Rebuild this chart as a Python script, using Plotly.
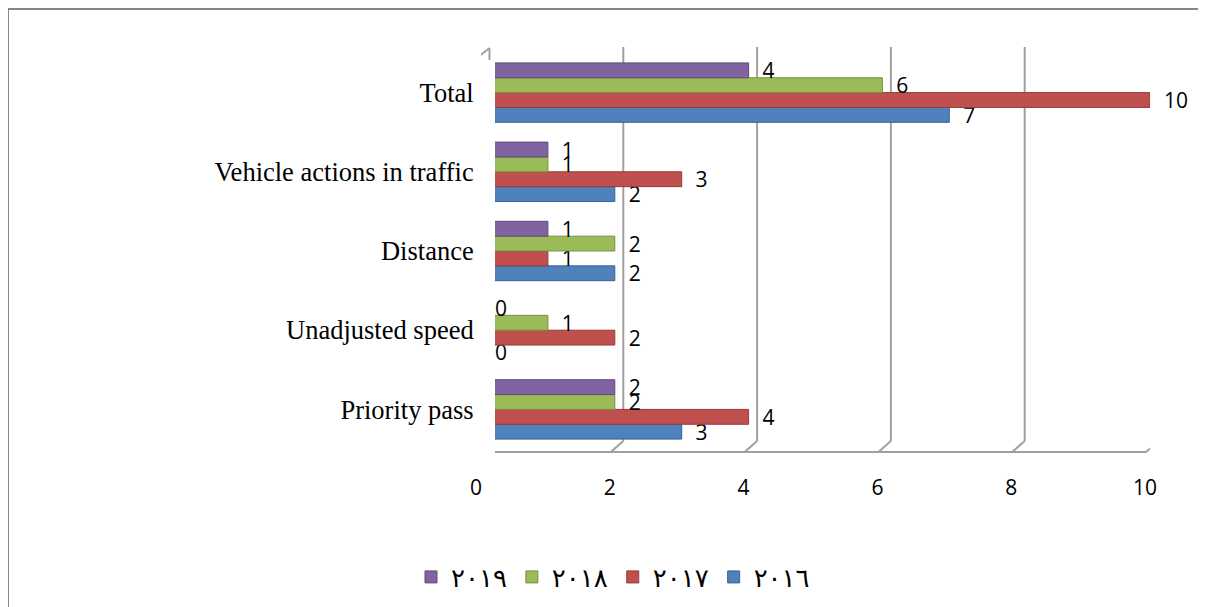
import plotly.graph_objects as go

categories = ["Priority pass", "Unadjusted speed", "Distance",
              "Vehicle actions in traffic", "Total"]
series_names = ["٢٠١٦", "٢٠١٧", "٢٠١٨", "٢٠١٩"]
v2016 = [3, 0, 2, 2, 7]
v2017 = [4, 2, 1, 3, 10]
v2018 = [2, 1, 2, 1, 6]
v2019 = [2, 0, 1, 1, 4]
colors = ["#4F81BD", "#C0504D", "#9BBB59", "#8064A2"]
edge_colors = ["#3A6292", "#943B39", "#76923F", "#5F4A7A"]
x_ticks = [0, 2, 4, 6, 8, 10]

# page body has an 8px margin; compensate so the plot lands where intended
OFF = 8
W, H = 1206, 607
PL, PR, PT, PB = 481, 1150, 53, 449  # plot area in screen pixels
ML = PL - OFF
MR = W + OFF - PR
MT = PT - OFF
MB = H + OFF - PB
PW = PR - PL
PH = PB - PT

fig = go.Figure()
for name, vals, c, ec in zip(series_names, [v2016, v2017, v2018, v2019], colors, edge_colors):
    fig.add_trace(go.Bar(
        y=categories, x=vals, name=name, orientation="h",
        marker=dict(color=c, line=dict(color=ec, width=1)),
        texttemplate="  %{x}", textposition="outside",
        textfont=dict(family="Open Sans", size=21, color="black"),
        constraintext="none", cliponaxis=False,
    ))

def px_x(px):
    return (px - PL) / PW

def px_y(py):
    return (PB - py) / PH

grid_col = "#A0A0A0"
unit = PW / 10.0
front = -4 / unit
back = 8.5 / unit
wall = 14 / unit
shapes = []
y_front = px_y(452)
y_back = px_y(441)
y_top = px_y(47)
for t in x_ticks[1:]:
    shapes.append(dict(type="line", xref="x", yref="paper", x0=t + back, x1=t + back,
                       y0=y_back, y1=y_top, line=dict(color=grid_col, width=2), layer="below"))
    shapes.append(dict(type="line", xref="x", yref="paper", x0=t + front, x1=t + back,
                       y0=y_front, y1=y_back, line=dict(color=grid_col, width=2), layer="below"))
# floor front edge
shapes.append(dict(type="line", xref="x", yref="paper", x0=x_ticks[0] + wall, x1=x_ticks[-1] + front,
                   y0=y_front, y1=y_front, line=dict(color=grid_col, width=2), layer="below"))
# left wall clips the bar bases (3-D look)
shapes.append(dict(type="rect", xref="x", yref="paper", x0=x_ticks[0] - 2 / unit, x1=x_ticks[0] + wall,
                   y0=px_y(451), y1=px_y(61), fillcolor="white", line=dict(width=0), layer="above"))
# top-left wall corner
shapes.append(dict(type="line", xref="x", yref="paper", x0=x_ticks[0] + front, x1=x_ticks[0] + back,
                   y0=px_y(58), y1=px_y(48), line=dict(color=grid_col, width=2), layer="below"))
shapes.append(dict(type="line", xref="x", yref="paper", x0=x_ticks[0] + back, x1=x_ticks[0] + back,
                   y0=px_y(48), y1=px_y(60), line=dict(color=grid_col, width=2), layer="below"))
# outer frame
shapes.append(dict(type="rect", xref="paper", yref="paper", x0=px_x(8), x1=px_x(1225),
                   y0=px_y(640), y1=px_y(9), line=dict(color="#868686", width=2), layer="below"))

fig.update_layout(
    width=W, height=H,
    margin=dict(l=ML, r=MR, t=MT, b=MB, autoexpand=False),
    paper_bgcolor="white", plot_bgcolor="white",
    barmode="group", bargap=0.25, bargroupgap=0,
    shapes=shapes,
    showlegend=True,
    legend=dict(orientation="h", traceorder="reversed",
                x=px_x(613), xanchor="center", y=px_y(577), yanchor="middle",
                font=dict(family="DejaVu Sans", size=26, color="black"),
                itemwidth=30),
    xaxis=dict(range=[0, 10], tickvals=x_ticks, showgrid=False, zeroline=False,
               showline=False, ticks="outside", ticklen=20, tickcolor="rgba(0,0,0,0)",
               ticklabelshift=-5,
               tickfont=dict(family="Open Sans", size=21, color="black")),
    yaxis=dict(showgrid=False, zeroline=False, showline=False, automargin=False,
               ticks="outside", ticklen=1, tickcolor="rgba(0,0,0,0)",
               tickfont=dict(family="Liberation Serif", size=26.5, color="black")),
)

fig.write_html("out.html")
